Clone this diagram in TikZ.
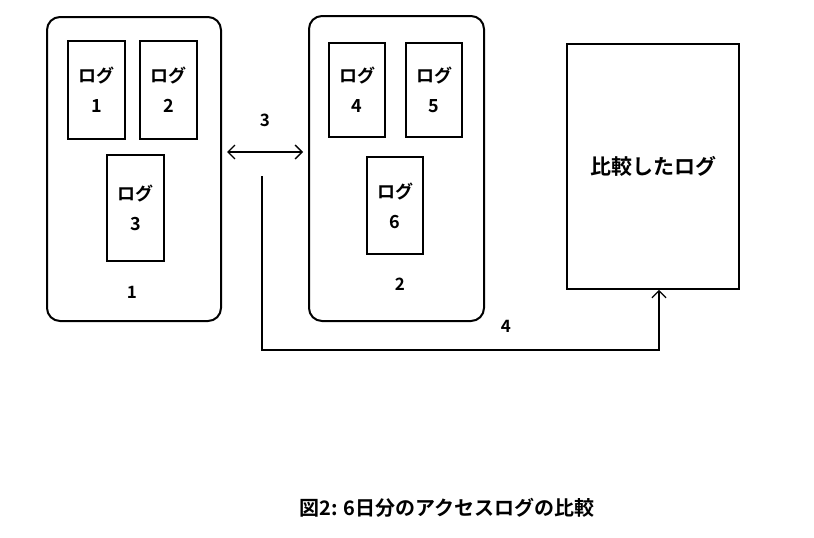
\documentclass[tikz,border=0pt]{standalone}
\usepackage{fontspec}
\setmainfont{Noto Sans CJK JP}[BoldFont={Noto Sans CJK JP Bold}]
\usetikzlibrary{arrows.meta}
\begin{document}
\begin{tikzpicture}[x=1pt,y=-1pt,
  grp/.style={draw,line width=2pt,rounded corners=13pt,inner sep=0pt},
  logbox/.style={draw,line width=1.8pt,inner sep=0pt,align=center,font=\fontsize{18}{30}\selectfont\bfseries},
  lbl/.style={font=\fontsize{17}{20}\selectfont\bfseries,inner sep=0pt},
  conn/.style={line width=1.8pt}]
\useasboundingbox (0,0) rectangle (814,538);
% groups
\node[grp,minimum width=174pt,minimum height=304pt] (g1) at (134,169) {};
\node[grp,minimum width=175pt,minimum height=305pt] (g2) at (396.5,168.5) {};
% logs
\node[logbox,minimum width=57pt,minimum height=98pt] (l1) at (96.5,90) {ログ\\1};
\node[logbox,minimum width=57pt,minimum height=98pt] (l2) at (168.5,90) {ログ\\2};
\node[logbox,minimum width=57pt,minimum height=106pt] (l3) at (135.5,208) {ログ\\3};
\node[logbox,minimum width=56pt,minimum height=94pt] (l4) at (357,90) {ログ\\4};
\node[logbox,minimum width=56pt,minimum height=94pt] (l5) at (434,90) {ログ\\5};
\node[logbox,minimum width=56pt,minimum height=97pt] (l6) at (395,205.5) {ログ\\6};
\node[lbl] (n1) at (132,292) {1};
\node[lbl] (n2) at (400,284) {2};
% compared
\node[draw,line width=1.8pt,minimum width=172pt,minimum height=245pt,inner sep=0pt,font=\fontsize{21}{24}\selectfont\bfseries] (cmp) at (653,166.5) {比較したログ};
% arrows
\coordinate (a3l) at (227,152);
\coordinate (a3r) at (303,152);
\draw[conn,{Straight Barb[length=7pt,width=14pt,line width=1.3pt]}-{Straight Barb[length=7pt,width=14pt,line width=1.3pt]}] (a3l) -- (a3r);
\node[lbl] (t3) at (265,120) {3};
\coordinate (s4) at (262,176);
\coordinate (c4) at (262,350);
\coordinate (e4) at (659,350);
\draw[conn,-{Straight Barb[length=7pt,width=14pt,line width=1.3pt]}] (s4) -- (c4) -- (e4) -- (cmp.south -| e4);
\node[lbl] (t4) at (506,326) {4};
% caption
\node[font=\fontsize{20}{24}\selectfont\bfseries,inner sep=0pt] (cap) at (447,508) {図2: 6日分のアクセスログの比較};
\end{tikzpicture}
\end{document}
